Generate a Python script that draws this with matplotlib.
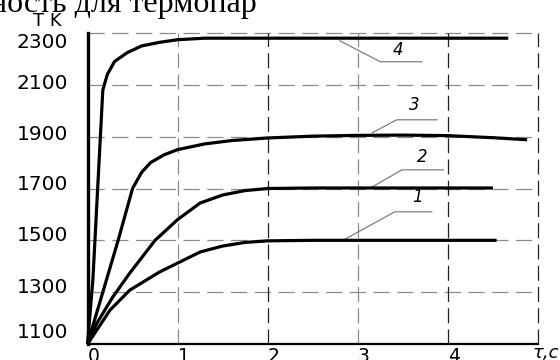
import matplotlib
matplotlib.use("Agg")
import matplotlib.pyplot as plt
import matplotlib.transforms as mtransforms

# ---- data ----
x1 = [0, 0.1, 0.25, 0.47, 0.8, 1.25, 1.5, 1.75, 2.0, 2.5, 4.54]
t1 = [1100, 1152, 1231, 1308, 1378, 1455, 1478, 1492, 1498, 1500, 1500]

x2 = [0, 0.1, 0.28, 0.47, 0.75, 1.0, 1.25, 1.5, 1.75, 2.0, 2.5, 4.5]
t2 = [1100, 1178, 1281, 1374, 1500, 1580, 1644, 1675, 1692, 1700, 1702, 1702]

x3 = [0, 0.34, 0.5, 0.6, 0.7, 0.85, 1.0, 1.3, 1.6, 2.0, 2.5, 3.0, 3.5, 4.0, 4.5, 4.88]
t3 = [1100, 1500, 1700, 1762, 1800, 1830, 1850, 1872, 1885, 1895, 1902, 1905, 1906, 1904, 1896, 1888]

x4 = [0, 0.06, 0.17, 0.22, 0.3, 0.44, 0.6, 0.8, 1.0, 1.3, 4.67]
t4 = [1100, 1350, 2080, 2140, 2190, 2224, 2250, 2264, 2274, 2280, 2280]

curve_labels = ["1", "2", "3", "4"]
# leader lines: start on curve, knee, end of shelf ; label position
leader_pts = [
    [(2.86, 1505), (3.41, 1610), (3.82, 1610)],
    [(3.16, 1706), (3.49, 1772), (3.95, 1772)],
    [(3.16, 1915), (3.43, 1965), (3.88, 1965)],
    [(2.80, 2270), (3.25, 2189), (3.71, 2189)],
]
label_pos = [(3.66, 1668), (3.71, 1822), (3.63, 2023), (3.45, 2235)]

xticks = [0, 1, 2, 3, 4]
yticks = [1100, 1300, 1500, 1700, 1900, 2100, 2300]
# small vertical shifts (px, +down) of hand-placed y tick labels in the reference
ylabel_shift = [-14, -7, -7, -6, -4, -3, 7]

title_text = "ность для термопар"
y_unit = "T K"
x_unit = "τ,c"

# ---- figure ----
fig = plt.figure(figsize=(5.6, 3.6), dpi=100)
ax = fig.add_axes([87.5 / 560, 16 / 360, (538 - 87.5) / 560, (344 - 33) / 360])
ax.set_xlim(0, 5)
ax.set_ylim(1100, 2300)

# grid
for y in yticks[1:]:
    ax.plot([0, 5], [y, y], color="#8c8c8c", lw=0.9, ls=(0, (13, 6)), zorder=1, clip_on=False)
vcols = {1: "#8c8c8c", 2: "#202020", 3: "#8c8c8c", 4: "#202020", 5: "#202020"}
for xv, c in vcols.items():
    ax.plot([xv, xv], [1100, 2300], color=c, lw=0.9, ls=(0, (12, 5)), zorder=1, clip_on=False)

for xs, ts in [(x1, t1), (x2, t2), (x3, t3), (x4, t4)]:
    ax.plot(xs, ts, color="black", lw=2.3, solid_capstyle="butt", solid_joinstyle="round",
            zorder=3, clip_on=False)

for pts, lab, (lx, ly) in zip(leader_pts, curve_labels, label_pos):
    ax.plot([p[0] for p in pts], [p[1] for p in pts], color="#707070", lw=0.8, zorder=2)
    ax.text(lx, ly, lab, fontsize=12, style="italic", ha="center", va="center",
            family="DejaVu Sans", color="black")

for s in ["top", "right"]:
    ax.spines[s].set_visible(False)
ax.spines["left"].set_linewidth(2.4)
ax.spines["bottom"].set_linewidth(1.6)
ax.spines["left"].set_bounds(1100, 2300)

ax.set_xticks(xticks)
ax.set_xticklabels([str(v) for v in xticks])
ax.set_yticks(yticks)
ax.set_yticklabels([str(v) for v in yticks])
ax.tick_params(axis="both", length=0)
ax.tick_params(axis="y", pad=14, labelsize=14.5)
ax.tick_params(axis="x", pad=2, labelsize=13.5)
for lab in ax.get_xticklabels():
    lab.set_horizontalalignment("left")
for lab, sh in zip(ax.get_yticklabels(), ylabel_shift):
    lab.set_transform(lab.get_transform() +
                      mtransforms.ScaledTranslation(0, -sh / 100, fig.dpi_scale_trans))

fig.text(33 / 560, 1 - 26 / 360, y_unit, fontsize=13, ha="left", va="baseline")
fig.text(532 / 560, 1 - 358 / 360, x_unit, fontsize=13, ha="left", va="baseline", style="italic")
fig.text(-10 / 560, 1 - 12 / 360, title_text, fontsize=23, ha="left", va="baseline",
         family="Liberation Serif")

fig.savefig("out.png", dpi=100)
